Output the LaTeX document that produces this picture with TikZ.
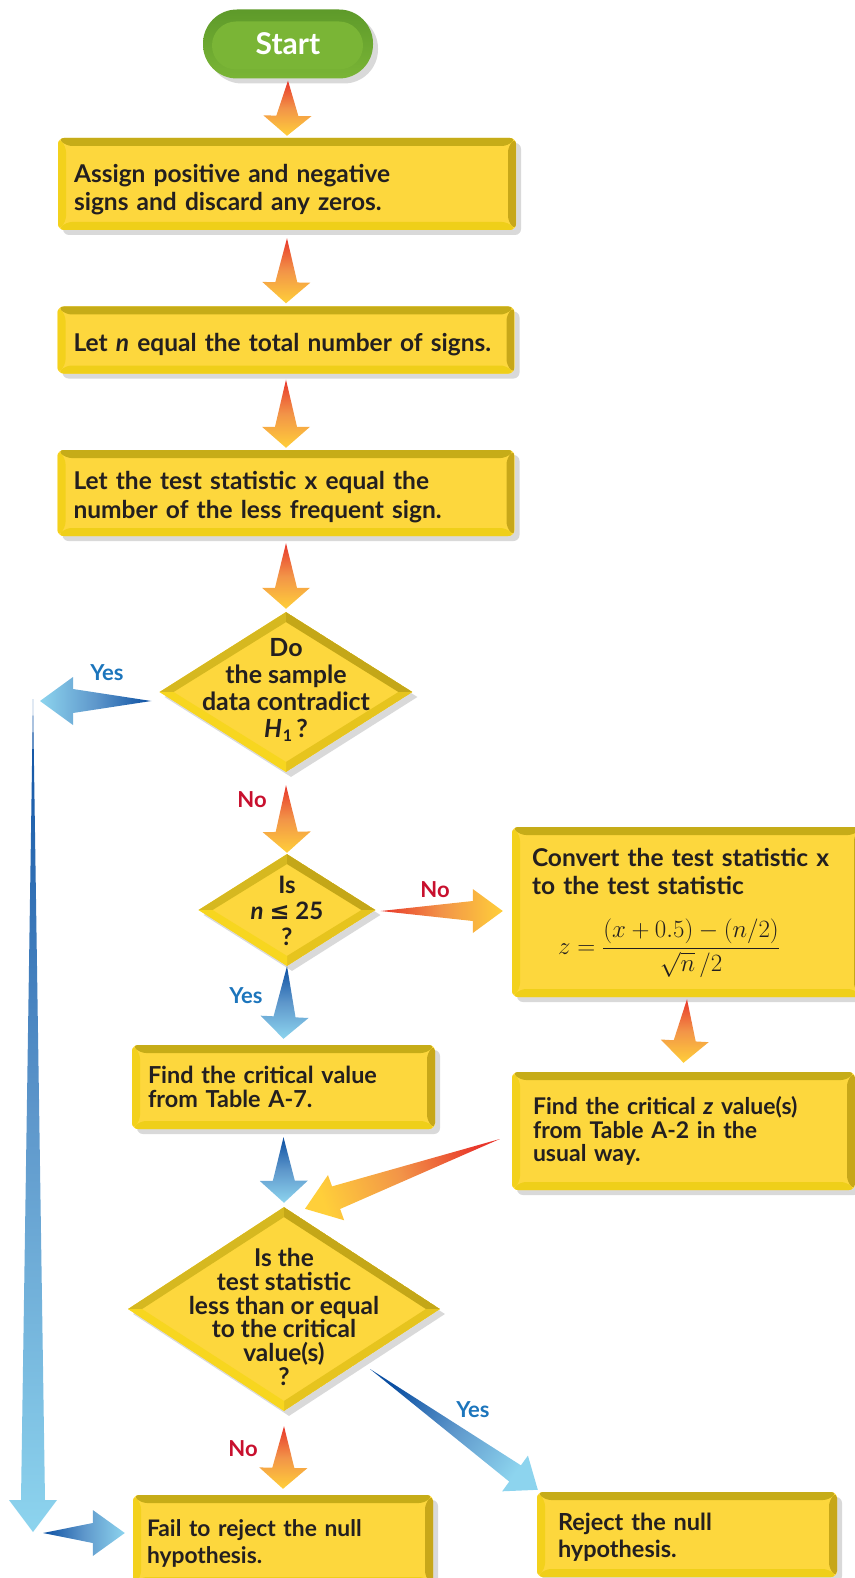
\documentclass[tikz,border=0pt]{standalone}
\usepackage{fontspec}
\setmainfont{Lato}
\newfontfamily\djv{DejaVu Sans}
\usetikzlibrary{shapes.geometric,calc,shadows}
\definecolor{boxin}{HTML}{FDD73D}
\definecolor{bvtop}{HTML}{C6AC18}
\definecolor{bvright}{HTML}{C7A719}
\definecolor{bvleft}{HTML}{F3D11C}
\definecolor{bvbot}{HTML}{EFCF19}
\definecolor{dTL}{HTML}{D6B820}
\definecolor{dTR}{HTML}{C4A718}
\definecolor{dBL}{HTML}{F7D61F}
\definecolor{dBR}{HTML}{E6C41E}
\definecolor{gout}{HTML}{5E9A2A}
\definecolor{gin}{HTML}{7AB536}
\definecolor{ored}{HTML}{E8362B}
\definecolor{oorg}{HTML}{F29448}
\definecolor{oyel}{HTML}{FFCF3A}
\definecolor{bdark}{HTML}{0B4FA2}
\definecolor{bmid}{HTML}{5E97CB}
\definecolor{blight}{HTML}{8DD4EE}
\definecolor{noRed}{HTML}{C8102E}
\definecolor{yesBlue}{HTML}{1C75BC}
\definecolor{txt}{HTML}{231F20}
\newcommand\ybevels{%
 \fill[bvleft] (path picture bounding box.north west) -- (path picture bounding box.south west) -- ([xshift=8pt,yshift=8pt]path picture bounding box.south west) -- ([xshift=8pt,yshift=-8pt]path picture bounding box.north west) -- cycle;
 \fill[bvright] (path picture bounding box.north east) -- (path picture bounding box.south east) -- ([xshift=-8pt,yshift=8pt]path picture bounding box.south east) -- ([xshift=-8pt,yshift=-8pt]path picture bounding box.north east) -- cycle;
 \fill[bvtop] (path picture bounding box.north west) -- (path picture bounding box.north east) -- ([xshift=-8pt,yshift=-8pt]path picture bounding box.north east) -- ([xshift=8pt,yshift=-8pt]path picture bounding box.north west) -- cycle;
 \fill[bvbot] (path picture bounding box.south west) -- (path picture bounding box.south east) -- ([xshift=-8pt,yshift=8pt]path picture bounding box.south east) -- ([xshift=8pt,yshift=8pt]path picture bounding box.south west) -- cycle;
}
\newcommand\dbevels{%
 \fill[dTL] (path picture bounding box.west) -- (path picture bounding box.north) -- ([yshift=-10pt]path picture bounding box.north) -- ([xshift=14pt]path picture bounding box.west) -- cycle;
 \fill[dTR] (path picture bounding box.north) -- (path picture bounding box.east) -- ([xshift=-14pt]path picture bounding box.east) -- ([yshift=-10pt]path picture bounding box.north) -- cycle;
 \fill[dBR] (path picture bounding box.east) -- (path picture bounding box.south) -- ([yshift=10pt]path picture bounding box.south) -- ([xshift=-14pt]path picture bounding box.east) -- cycle;
 \fill[dBL] (path picture bounding box.south) -- (path picture bounding box.west) -- ([xshift=14pt]path picture bounding box.west) -- ([yshift=10pt]path picture bounding box.south) -- cycle;
}
\newcommand\garrow[6]{%
 \coordinate (gaA) at #2;
 \coordinate (gaB) at #3;
 \coordinate (gaH) at ($(gaB)!#6!(gaA)$);
 \shade[#1] (gaA) -- ($(gaH)!#4!90:(gaB)$) -- ($(gaH)!#5!90:(gaB)$) -- (gaB) -- ($(gaH)!#5!-90:(gaB)$) -- ($(gaH)!#4!-90:(gaB)$) -- cycle;
}
\newcommand\dn[1]{\rule{0pt}{#1}}
\tikzset{
 shad/.style={drop shadow={shadow xshift=5pt, shadow yshift=-5pt, opacity=.15, fill=black}},
 ybox/.style={rectangle, rounded corners=6pt, fill=boxin, inner xsep=16pt, inner ysep=0pt,
   align=left, text=txt, shad, path picture={\ybevels}},
 ydiam/.style={diamond, fill=boxin, inner sep=0pt, shad, path picture={\dbevels}},
 dtext/.style={align=center, text=txt, inner sep=0pt},
 startpill/.style={rectangle, rounded corners=34pt, minimum width=170pt, minimum height=69pt,
   top color=gout, bottom color=gin, text=white, shad,
   font=\fontsize{30}{32}\selectfont\bfseries,
   path picture={\fill[gin, rounded corners=24pt] ([xshift=9pt,yshift=-12pt]path picture bounding box.north west) rectangle ([xshift=-10pt,yshift=9pt]path picture bounding box.south east);}},
 oarr/.style={bottom color=ored, top color=oyel, middle color=oorg, shading angle=#1},
 barr/.style={bottom color=bdark, top color=blight, middle color=bmid, shading angle=#1},
 lab/.style={inner sep=0pt, font=\fontsize{22}{24}\selectfont\bfseries},
}
\newcommand\fA{\fontsize{24.5}{28.5}\selectfont\bfseries}
\begin{document}
\begin{tikzpicture}[x=1pt,y=-1pt]
\useasboundingbox (0,0) rectangle (854,1578);

% nodes
\node[startpill] (start) at (288,44) {Start};
\node[ybox, minimum width=458pt, minimum height=92pt, text width=426pt, font=\fA] (b1) at (287,184)
  {\dn{29pt}\mbox{Assign positive and negative}\\\mbox{signs and discard any zeros.}};
\node[ybox, minimum width=457pt, minimum height=67pt, text width=425pt, font=\fA] (b2) at (286,340)
  {\dn{28pt}\mbox{Let \textit{n} equal the total number of signs.}};
\node[ybox, minimum width=457pt, minimum height=86pt, text width=425pt, font=\fA] (b3) at (286,493)
  {\dn{26pt}\mbox{Let the test statistic x equal the}\\\mbox{number of the less frequent sign.}};
\node[ydiam, minimum width=253pt, minimum height=160pt] (d1) at (286,692) {};
\node[dtext, font=\fontsize{25}{26.7}\selectfont\bfseries] (d1t) at ($(d1)+(0,-2)$)
  {Do\\the sample\\data contradict\\\textit{H}\kern1pt\raisebox{-4pt}{\fontsize{16}{16}\selectfont 1}\,?};
\node[ydiam, minimum width=177pt, minimum height=112pt] (d2) at (287,910) {};
\node[dtext, font=\fontsize{24}{26}\selectfont\bfseries] (d2t) at ($(d2)+(0,1)$)
  {Is\\\textit{n} {\djv\bfseries ≤} 25\\?};
\node[ybox, minimum width=350pt, minimum height=170pt, inner xsep=20pt, text width=310pt, font=\fA] (b4) at (687,912)
  {\dn{20pt}\mbox{Convert the test statistic x}\\\mbox{to the test statistic}\\[23pt]
   \mbox{\hspace*{26pt}\fontsize{24}{26}\selectfont $z=\displaystyle\frac{(x+0.5)-(n/2)}{\sqrt{n}\,/2}$}};
\node[ybox, minimum width=343pt, minimum height=118pt, inner xsep=21pt, text width=301pt, font=\fontsize{23}{23.5}\selectfont\bfseries] (b5) at (683.5,1131)
  {\mbox{Find the critical \textit{z} value(s)}\\from Table A-2 in the\\usual way.};
\node[ybox, minimum width=303pt, minimum height=84pt, inner xsep=16pt, text width=271pt, font=\fontsize{23.4}{24}\selectfont\bfseries] (b6) at (283.5,1087)
  {\mbox{Find the critical value}\\from Table A-7.};
\node[ydiam, minimum width=312pt, minimum height=204pt] (d3) at (284,1309) {};
\node[dtext, font=\fontsize{24.5}{23.8}\selectfont\bfseries] (d3t) at ($(d3)+(0,8)$)
  {Is the\\test statistic\\less than or equal\\to the critical\\value(s)\\?};
\node[ybox, minimum width=300pt, minimum height=90pt, inner xsep=14pt, text width=272pt, font=\fontsize{22.8}{27}\selectfont\bfseries] (b7) at (283,1540)
  {\dn{24pt}\mbox{Fail to reject the null}\\hypothesis.};
\node[ybox, minimum width=300pt, minimum height=85pt, inner xsep=21pt, text width=258pt, font=\fontsize{23.5}{27}\selectfont\bfseries] (b8) at (687,1534.5)
  {\dn{22pt}Reject the null\\hypothesis.};

% free ends
\coordinate (yesTip) at (40,701);
\coordinate (longTop) at (33,699);
\coordinate (longBot) at (33,1532);
\coordinate (failTail) at (43,1533);

% connectors
\garrow{oarr=180}{($(start.south)+(0,2)$)}{($(b1.north)+(0,-2)$)}{11pt}{24pt}{20pt}
\garrow{oarr=180}{($(b1.south)+(0,8)$)}{($(b2.north)+(0,-3)$)}{11pt}{24pt}{21pt}
\garrow{oarr=180}{($(b2.south)+(0,6)$)}{($(b3.north)+(0,-2)$)}{11pt}{24pt}{21pt}
\garrow{oarr=180}{($(b3.south)+(0,7)$)}{($(d1.north)+(0,-3)$)}{11pt}{24pt}{21pt}
\garrow{oarr=180}{($(d1.south)+(0,13)$)}{($(d2.north)+(0,-1)$)}{11pt}{24pt}{21pt}
\garrow{barr=180}{($(d2.south)+(0,0)$)}{($(b6.north)+(0,-6)$)}{11pt}{24pt}{22pt}
\garrow{barr=180}{($(b6.south)+(0,8)$)}{($(d3.north)+(0,-4)$)}{11pt}{24pt}{22pt}
\garrow{oarr=180}{($(d3.south)+(0,15)$)}{($(b7.north)+(0,-6)$)}{11pt}{24pt}{21pt}
\garrow{oarr=-90}{($(d2.east)+(5,1)$)}{($(b4.west)+(-9,-1)$)}{10pt}{22pt}{30pt}
\garrow{oarr=180}{($(b4.south)+(0,2)$)}{($(b5.north)+(0,-9)$)}{11pt}{24pt}{22pt}
\garrow{oarr=110}{($(b5.west)+(-12,8)$)}{($(d3.north)+(21,2)$)}{12pt}{24pt}{33pt}
\garrow{barr=-125.8}{($(d3.center)+(86,60)$)}{($(b8.north west)+(1,-2)$)}{10pt}{22pt}{28pt}
\garrow{barr=90}{($(d1.west)+(-8,9)$)}{(yesTip)}{12pt}{24pt}{33pt}
\garrow{barr=180}{(longTop)}{(longBot)}{12pt}{24pt}{32pt}
\garrow{barr=-90}{(failTail)}{($(b7.west)+(-8,-7)$)}{10pt}{23pt}{32pt}

% labels
\node[lab, text=yesBlue] (lyes1) at (107,673) {Yes};
\node[lab, text=noRed] (lno1) at (252,800) {No};
\node[lab, text=noRed] (lno2) at (435,890) {No};
\node[lab, text=yesBlue] (lyes2) at (246,996) {Yes};
\node[lab, text=yesBlue] (lyes3) at (473,1410) {Yes};
\node[lab, text=noRed] (lno3) at (243,1449) {No};
\end{tikzpicture}
\end{document}
